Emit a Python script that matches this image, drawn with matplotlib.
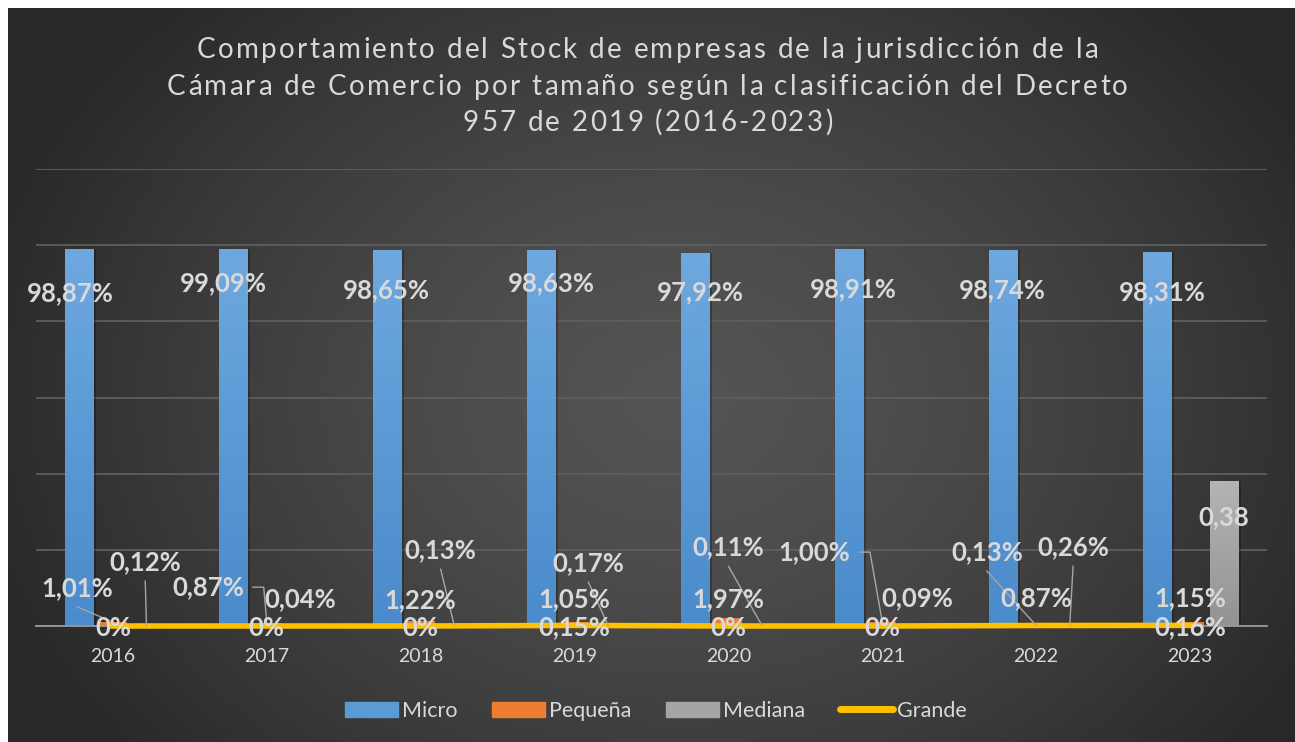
import numpy as np
import matplotlib
matplotlib.use("Agg")
import matplotlib.pyplot as plt
from matplotlib.patches import Rectangle
from matplotlib.lines import Line2D
from matplotlib.colors import LinearSegmentedColormap
from matplotlib.font_manager import FontProperties, findfont, get_font

plt.rcParams["font.family"] = ["Lato", "DejaVu Sans"]

years = ["2016", "2017", "2018", "2019", "2020", "2021", "2022", "2023"]
micro = [98.87, 99.09, 98.65, 98.63, 97.92, 98.91, 98.74, 98.31]
pequena = [1.01, 0.87, 1.22, 1.05, 1.97, 1.00, 0.87, 1.15]
mediana = [0.12, 0.04, 0.13, 0.17, 0.11, 0.09, 0.26, 38.0]
grande = [0.0, 0.0, 0.0, 0.15, 0.0, 0.0, 0.13, 0.16]

micro_lbl = ["98,87%", "99,09%", "98,65%", "98,63%", "97,92%", "98,91%", "98,74%", "98,31%"]
pequena_lbl = ["1,01%", "0,87%", "1,22%", "1,05%", "1,97%", "1,00%", "0,87%", "1,15%"]
mediana_lbl = ["0,12%", "0,04%", "0,13%", "0,17%", "0,11%", "0,09%", "0,26%", "0,38"]
grande_lbl = ["0%", "0%", "0%", "0,15%", "0%", "0%", "0,13%", "0,16%"]

title_lines = ["Comportamiento del Stock de empresas de la jurisdicción de la",
               "Cámara de Comercio por tamaño según la clasificación del Decreto",
               "957 de 2019 (2016-2023)"]

# label placement (x offset from category, y in data units) -- layout only
micro_pos = [(-0.28, 87.4), (-0.28, 90.0), (-0.22, 88.2), (-0.15, 90.0),
             (-0.18, 87.7), (-0.19, 88.5), (-0.22, 88.2), (-0.18, 87.7)]
pequena_pos = [(-0.23, 10.0), (-0.38, 10.2), (0.0, 6.8), (0.0, 7.1),
               (0.0, 7.1), (-0.44, 19.4), (0.0, 7.3), (0.0, 7.3)]
mediana_pos = [(0.21, 16.8), (0.22, 7.1), (0.13, 19.9), (0.09, 16.5),
               (0.0, 20.7), (0.23, 7.3), (0.24, 20.7), (0.22, 28.6)]
grande_pos = [(0.0, -0.5), (0.0, -0.5), (0.0, -0.5), (0.0, -0.3),
              (0.0, -0.5), (0.0, -0.5), (-0.32, 19.4), (0.0, -0.3)]

BLUE, ORANGE, GRAY, YELLOW = "#5B9BD5", "#ED7D31", "#A5A5A5", "#FFC000"
TXT = "#D9D9D9"
BW, OFF = 0.182, 0.218

W, H = 1295, 742
fig = plt.figure(figsize=(W / 100, H / 100), dpi=100, facecolor="white")

# dark radial background panel
bg = fig.add_axes([8 / W, 0, 1 - 8 / W, 1 - 8 / H])
yy, xx = np.mgrid[0:734, 0:1287]
r = np.sqrt(((xx - 670) / 720.0) ** 2 + ((yy - 390) / 560.0) ** 2)
shade = 0.33 - 0.17 * np.clip(r, 0, 1) ** 1.4
bg.imshow(np.dstack([shade] * 3), aspect="auto", interpolation="bilinear")
bg.axis("off")

ax = fig.add_axes([36 / W, 116 / H, 1231 / W, 457 / H])
ax.set_facecolor("none")
x = np.arange(len(years))

ax.bar(x - OFF + 0.02, micro, BW, color="black", alpha=0.25, zorder=1)
ax.bar(x + OFF + 0.02, mediana, BW, color="black", alpha=0.25, zorder=1)
b_micro = ax.bar(x - OFF, micro, BW, color=BLUE, zorder=2)
ax.bar(x, pequena, BW, color=ORANGE, zorder=2)
b_med = ax.bar(x + OFF, mediana, BW, color=GRAY, zorder=2)

# soft vertical gradient on the bars (lighter at the top)
grad = np.linspace(0, 1, 256).reshape(-1, 1)
for bars, lo, hi in [(b_micro, "#4A8BCB", "#6EA8DF"), (b_med, "#939393", "#B4B4B4")]:
    cm = LinearSegmentedColormap.from_list("g", [lo, hi])
    for p in bars:
        x0, w, h = p.get_x(), p.get_width(), p.get_height()
        im = ax.imshow(grad, extent=[x0, x0 + w, 0, h], origin="lower", cmap=cm,
                       aspect="auto", zorder=2.1)
        im.set_clip_path(p)

ax.plot(x, grande, color=YELLOW, lw=4, solid_capstyle="projecting", zorder=3, clip_on=False)

ax.set_xlim(-0.5, 7.5)
ax.set_ylim(0, 120)
ax.set_yticks(np.arange(0, 121, 20))
ax.yaxis.grid(True, color="#5E5E5E", lw=1.3, zorder=0)
ax.set_axisbelow(True)
ax.tick_params(axis="y", left=False, labelleft=False)
ax.tick_params(axis="x", bottom=False, colors=TXT, labelsize=14, pad=12)
ax.set_xticks(x, years)
for s in ["top", "right", "left"]:
    ax.spines[s].set_visible(False)
ax.spines["bottom"].set_color("#9A9A9A")
ax.spines["bottom"].set_linewidth(1.3)
ax.spines["bottom"].set_zorder(2.5)

lab_kw = dict(color=TXT, fontsize=18.5, fontweight="bold", ha="center", va="center", zorder=6)
for lbls, pos in [(micro_lbl, micro_pos), (pequena_lbl, pequena_pos),
                  (mediana_lbl, mediana_pos), (grande_lbl, grande_pos)]:
    for i, (t, (dx, yv)) in enumerate(zip(lbls, pos)):
        ax.text(i + dx, yv, t, **lab_kw)

# leader lines: (category, label positions, series offset, values, style)
leaders = [(0, pequena_pos, 0.0, pequena, "below"),
           (0, mediana_pos, OFF, mediana, "below"),
           (1, pequena_pos, 0.0, pequena, "side"),
           (2, mediana_pos, OFF, mediana, "below"),
           (3, mediana_pos, OFF, mediana, "below"),
           (4, mediana_pos, OFF, mediana, "below"),
           (5, pequena_pos, 0.0, pequena, "side"),
           (6, grande_pos, 0.0, grande, "below"),
           (6, mediana_pos, OFF, mediana, "below")]
for i, pos, off, vals, style in leaders:
    lx, ly = i + pos[i][0], pos[i][1]
    ex, ey = i + off, min(vals[i], 1.5)
    if style == "below":
        xs, ys = [lx, ex], [ly - 5.0, ey]
    else:
        xs, ys = [lx + 0.29, lx + 0.36, ex], [ly, ly, ey]
    ax.plot(xs, ys, color="#A6A6A6", lw=1, zorder=5)

# title with letter spacing (Excel-style spaced characters)
TSIZE, TRACK = 20, 2.35
font = get_font(findfont(FontProperties(family="Lato")))
font.set_size(TSIZE, 100)
for line, base in zip(title_lines, [58, 95, 131]):
    adv = [font.load_char(ord(c)).linearHoriAdvance / 65536.0 for c in line]
    total = sum(adv) + TRACK * (len(line) - 1)
    px = W / 2 - total / 2
    for c, a in zip(line, adv):
        fig.text(px / W, 1 - base / H, c, ha="left", va="baseline",
                 color=TXT, fontsize=TSIZE)
        px += a + TRACK

handles = [Rectangle((0, 0), 1, 1, color=BLUE), Rectangle((0, 0), 1, 1, color=ORANGE),
           Rectangle((0, 0), 1, 1, color=GRAY),
           Line2D([], [], color=YELLOW, lw=5, solid_capstyle="round")]
fig.legend(handles, ["Micro", "Pequeña", "Mediana", "Grande"], loc="center",
           bbox_to_anchor=(656 / W, 1 - 711 / H), ncol=4, frameon=False,
           fontsize=15.5, labelcolor=TXT, handlelength=2.45, handletextpad=0.2,
           columnspacing=1.6)

fig.savefig("out.png", dpi=100, facecolor="white")
